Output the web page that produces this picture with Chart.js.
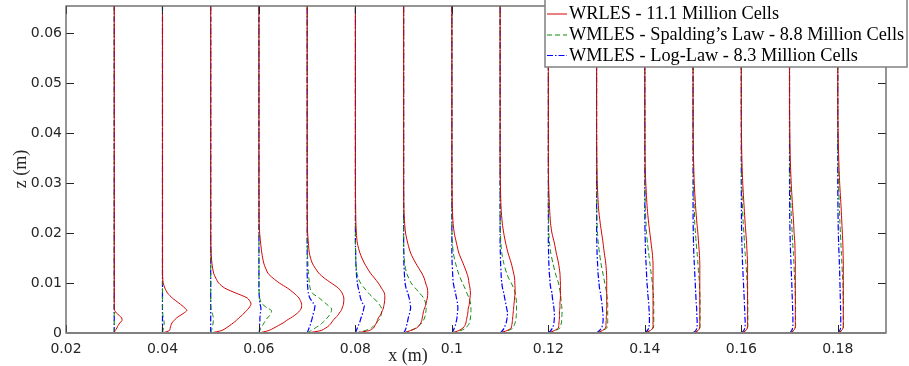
<!DOCTYPE html>
<html>
<head>
<meta charset="utf-8">
<script src="https://cdn.jsdelivr.net/npm/chart.js@4.4.1/dist/chart.umd.min.js"></script>
<style>
  html, body { margin: 0; padding: 0; background: #ffffff; }
  #wrap { width: 909px; height: 366px; }
</style>
</head>
<body>
<div id="wrap"><canvas id="c" width="909" height="366"></canvas></div>
<script>
// ---------------- DATA ----------------
// measurement stations (x, m)
const STATIONS = [0.03, 0.04, 0.05, 0.06, 0.07, 0.08, 0.09, 0.10, 0.11, 0.12, 0.13, 0.14, 0.15, 0.16, 0.17, 0.18];
// wall-normal sample heights (mm)
const Z_MM = [0, 0.5, 1, 1.5, 2, 2.5, 3, 3.5, 4, 4.5, 5, 5.5, 6, 7, 8, 9, 10, 11, 12, 14, 16, 18, 20, 22, 25, 30, 35, 40, 45, 65.5];
// profile offsets from each station (mm), one row per station, one value per height
const WRLES = [
  [0, 0.2, 0.55, 0.8, 1.15, 1.6, 1.55, 1.05, 0.45, 0.1, 0, 0, 0, 0, 0, 0, 0, 0, 0, 0, 0, 0, 0, 0, 0, 0, 0, 0, 0, 0],
  [0, 1.45, 1.6, 1.75, 1.95, 2.4, 2.9, 3.65, 4.45, 5.05, 4.65, 4.05, 3.4, 2.05, 1.05, 0.5, 0.15, 0.05, 0, 0, 0, 0, 0, 0, 0, 0, 0, 0, 0, 0],
  [0, 2.3, 3.2, 3.95, 4.65, 5.3, 5.8, 6.45, 6.95, 7.45, 7.9, 8.25, 8.35, 7.6, 5.2, 2.9, 1.65, 1.05, 0.6, 0.25, 0.1, 0.02, 0, 0, 0, 0, 0, 0, 0, 0],
  [0, 2.05, 3.1, 4.05, 5.0, 5.7, 6.55, 7.35, 8.0, 8.5, 8.8, 8.85, 8.8, 8.3, 7.25, 5.9, 4.25, 2.9, 1.85, 1.0, 0.6, 0.35, 0.15, 0.05, 0.02, 0, 0, 0, 0, 0],
  [0, 2.9, 3.85, 4.55, 5.0, 5.35, 5.8, 6.35, 6.65, 7.05, 7.25, 7.45, 7.55, 7.6, 7.25, 6.45, 5.0, 3.55, 2.4, 1.05, 0.45, 0.25, 0.1, 0.05, 0, 0, 0, 0, 0, 0],
  [0, 2.9, 3.75, 4.05, 4.35, 4.55, 4.75, 5.1, 5.4, 5.6, 5.8, 5.9, 6.0, 6.1, 6.0, 5.4, 4.75, 3.95, 3.1, 1.85, 0.95, 0.4, 0.2, 0.1, 0.05, 0, 0, 0, 0, 0],
  [0, 1.45, 2.7, 3.2, 3.55, 3.75, 3.85, 3.95, 4.05, 4.15, 4.35, 4.55, 4.65, 4.9, 5.0, 4.9, 4.55, 4.25, 3.75, 2.5, 1.45, 0.85, 0.4, 0.2, 0.05, 0, 0, 0, 0, 0],
  [0, 1.45, 2.3, 2.7, 2.9, 3.0, 3.1, 3.2, 3.3, 3.35, 3.4, 3.55, 3.65, 3.75, 3.85, 3.75, 3.55, 3.4, 3.1, 2.3, 1.45, 0.95, 0.5, 0.25, 0.1, 0.02, 0, 0, 0, 0],
  [0, 1.45, 2.3, 2.4, 2.5, 2.55, 2.6, 2.65, 2.7, 2.75, 2.8, 2.85, 2.9, 3.0, 3.1, 3.1, 3.05, 3.0, 2.8, 2.3, 1.65, 1.15, 0.75, 0.45, 0.2, 0.05, 0, 0, 0, 0],
  [0, 1.25, 2.05, 2.15, 2.2, 2.25, 2.3, 2.3, 2.3, 2.3, 2.4, 2.4, 2.4, 2.5, 2.5, 2.5, 2.5, 2.45, 2.4, 2.1, 1.65, 1.25, 0.75, 0.45, 0.25, 0.05, 0, 0, 0, 0],
  [0, 1.25, 1.85, 1.95, 1.95, 2.0, 2.0, 2.05, 2.05, 2.05, 2.1, 2.1, 2.1, 2.1, 2.1, 2.1, 2.1, 2.1, 2.05, 1.9, 1.6, 1.35, 1.05, 0.75, 0.4, 0.15, 0.05, 0, 0, 0],
  [0, 1.15, 1.65, 1.7, 1.7, 1.7, 1.7, 1.7, 1.7, 1.7, 1.7, 1.7, 1.7, 1.7, 1.7, 1.7, 1.7, 1.7, 1.7, 1.7, 1.55, 1.3, 1.05, 0.8, 0.5, 0.2, 0.05, 0.02, 0, 0],
  [0, 1.05, 1.35, 1.4, 1.4, 1.4, 1.4, 1.4, 1.4, 1.4, 1.4, 1.4, 1.4, 1.4, 1.4, 1.4, 1.4, 1.4, 1.4, 1.4, 1.3, 1.15, 1.0, 0.8, 0.55, 0.25, 0.1, 0.02, 0, 0],
  [0, 0.95, 1.25, 1.3, 1.3, 1.3, 1.3, 1.3, 1.3, 1.3, 1.3, 1.3, 1.3, 1.3, 1.3, 1.3, 1.3, 1.3, 1.3, 1.3, 1.2, 1.1, 0.95, 0.8, 0.6, 0.3, 0.12, 0.04, 0, 0],
  [0, 0.85, 1.15, 1.2, 1.2, 1.2, 1.2, 1.2, 1.2, 1.2, 1.2, 1.2, 1.2, 1.2, 1.2, 1.2, 1.2, 1.2, 1.2, 1.2, 1.15, 1.1, 0.95, 0.85, 0.65, 0.35, 0.15, 0.06, 0.01, 0],
  [0, 0.8, 1.1, 1.15, 1.15, 1.15, 1.15, 1.15, 1.15, 1.15, 1.15, 1.15, 1.15, 1.15, 1.15, 1.15, 1.15, 1.15, 1.15, 1.15, 1.1, 1.05, 0.95, 0.85, 0.7, 0.4, 0.2, 0.08, 0.02, 0]
];
const WMLES_SPALDING = [
  [0, 0, 0, 0, 0, 0, 0, 0, 0, 0, 0, 0, 0, 0, 0, 0, 0, 0, 0, 0, 0, 0, 0, 0, 0, 0, 0, 0, 0, 0],
  [0, 0.1, 0.2, 0.3, 0.35, 0.3, 0.2, 0.1, 0.05, 0, 0, 0, 0, 0, 0, 0, 0, 0, 0, 0, 0, 0, 0, 0, 0, 0, 0, 0, 0, 0],
  [0, 0.15, 0.3, 0.4, 0.5, 0.55, 0.55, 0.45, 0.3, 0.15, 0.05, 0, 0, 0, 0, 0, 0, 0, 0, 0, 0, 0, 0, 0, 0, 0, 0, 0, 0, 0],
  [0, 0.2, 0.4, 0.75, 1.05, 1.35, 1.75, 2.2, 2.5, 2.6, 1.75, 1.05, 0.5, 0.15, 0.05, 0, 0, 0, 0, 0, 0, 0, 0, 0, 0, 0, 0, 0, 0, 0],
  [0, 0.85, 1.65, 2.5, 3.1, 3.65, 4.15, 4.55, 4.9, 5.05, 5.0, 4.35, 3.75, 2.5, 1.05, 0.6, 0.45, 0.35, 0.25, 0.15, 0.05, 0.02, 0, 0, 0, 0, 0, 0, 0, 0],
  [0, 2.05, 3.3, 3.85, 4.35, 4.75, 5.2, 5.3, 5.4, 5.4, 5.4, 5.1, 4.75, 3.75, 2.7, 1.85, 1.05, 0.6, 0.3, 0.1, 0.05, 0, 0, 0, 0, 0, 0, 0, 0, 0],
  [0, 1.45, 2.5, 3.2, 3.75, 4.05, 4.35, 4.45, 4.55, 4.65, 4.65, 4.65, 4.55, 4.15, 3.3, 2.4, 1.55, 1.05, 0.6, 0.2, 0.05, 0, 0, 0, 0, 0, 0, 0, 0, 0],
  [0, 1.85, 2.9, 3.3, 3.65, 3.75, 3.85, 3.9, 3.95, 3.95, 3.95, 3.9, 3.85, 3.55, 3.1, 2.7, 2.2, 1.75, 1.35, 0.75, 0.3, 0.1, 0.02, 0, 0, 0, 0, 0, 0, 0],
  [0, 1.65, 2.7, 2.9, 3.1, 3.2, 3.3, 3.35, 3.4, 3.4, 3.4, 3.4, 3.4, 3.3, 3.1, 2.8, 2.3, 1.75, 1.35, 0.75, 0.35, 0.15, 0.05, 0, 0, 0, 0, 0, 0, 0],
  [0, 1.45, 2.4, 2.55, 2.7, 2.75, 2.8, 2.8, 2.85, 2.8, 2.8, 2.75, 2.7, 2.6, 2.5, 2.3, 2.1, 1.75, 1.45, 0.95, 0.5, 0.25, 0.1, 0.05, 0, 0, 0, 0, 0, 0],
  [0, 1.25, 2.1, 2.2, 2.3, 2.3, 2.3, 2.3, 2.3, 2.3, 2.3, 2.3, 2.3, 2.2, 2.1, 1.9, 1.7, 1.5, 1.3, 0.9, 0.6, 0.35, 0.2, 0.1, 0.05, 0, 0, 0, 0, 0],
  [0, 1.15, 1.75, 1.85, 1.85, 1.85, 1.85, 1.85, 1.85, 1.85, 1.85, 1.85, 1.85, 1.8, 1.75, 1.65, 1.55, 1.45, 1.3, 1.05, 0.8, 0.55, 0.35, 0.25, 0.1, 0.02, 0, 0, 0, 0],
  [0, 1.05, 1.4, 1.45, 1.45, 1.45, 1.45, 1.45, 1.45, 1.45, 1.45, 1.45, 1.45, 1.45, 1.4, 1.35, 1.3, 1.25, 1.15, 1.0, 0.85, 0.65, 0.5, 0.35, 0.25, 0.1, 0.02, 0, 0, 0],
  [0, 0.95, 1.3, 1.35, 1.35, 1.35, 1.35, 1.35, 1.35, 1.35, 1.35, 1.35, 1.35, 1.3, 1.3, 1.25, 1.2, 1.15, 1.1, 0.95, 0.8, 0.65, 0.55, 0.4, 0.25, 0.1, 0.02, 0, 0, 0],
  [0, 0.9, 1.2, 1.25, 1.25, 1.25, 1.25, 1.25, 1.25, 1.25, 1.25, 1.25, 1.25, 1.2, 1.2, 1.15, 1.1, 1.05, 1.0, 0.9, 0.8, 0.65, 0.55, 0.45, 0.3, 0.12, 0.04, 0, 0, 0],
  [0, 0.85, 1.15, 1.15, 1.15, 1.15, 1.15, 1.15, 1.15, 1.15, 1.15, 1.15, 1.15, 1.1, 1.1, 1.08, 1.05, 1.0, 0.95, 0.85, 0.75, 0.65, 0.55, 0.45, 0.35, 0.15, 0.05, 0, 0, 0]
];
const WMLES_LOGLAW = [
  [0, 0, 0, 0, 0, 0, 0, 0, 0, 0, 0, 0, 0, 0, 0, 0, 0, 0, 0, 0, 0, 0, 0, 0, 0, 0, 0, 0, 0, 0],
  [0, 0, 0, 0, 0, 0, 0, 0, 0, 0, 0, 0, 0, 0, 0, 0, 0, 0, 0, 0, 0, 0, 0, 0, 0, 0, 0, 0, 0, 0],
  [0, 0, 0, 0, 0, 0, 0, 0, 0, 0, 0, 0, 0, 0, 0, 0, 0, 0, 0, 0, 0, 0, 0, 0, 0, 0, 0, 0, 0, 0],
  [0, 0.1, 0.15, 0.15, 0.15, 0.2, 0.2, 0.25, 0.3, 0.4, 0.4, 0.3, 0.2, 0.1, 0.02, 0, 0, 0, 0, 0, 0, 0, 0, 0, 0, 0, 0, 0, 0, 0],
  [0, 0.2, 0.4, 0.6, 0.75, 0.9, 1.05, 1.15, 1.3, 1.45, 1.55, 1.6, 1.25, 0.55, 0.25, 0.12, 0.06, 0.02, 0, 0, 0, 0, 0, 0, 0, 0, 0, 0, 0, 0],
  [0, 0.2, 0.4, 0.6, 0.85, 1.0, 1.15, 1.35, 1.5, 1.65, 1.75, 1.85, 1.45, 1.05, 0.85, 0.6, 0.4, 0.3, 0.2, 0.1, 0.05, 0, 0, 0, 0, 0, 0, 0, 0, 0],
  [0, 0.3, 0.5, 0.6, 0.75, 0.85, 0.95, 1.1, 1.25, 1.35, 1.45, 1.4, 1.35, 1.15, 0.85, 0.5, 0.3, 0.2, 0.15, 0.05, 0.02, 0, 0, 0, 0, 0, 0, 0, 0, 0],
  [0, 0.3, 0.5, 0.7, 0.85, 0.95, 1.05, 1.1, 1.15, 1.2, 1.25, 1.2, 1.15, 0.95, 0.75, 0.5, 0.3, 0.2, 0.15, 0.05, 0, 0, 0, 0, 0, 0, 0, 0, 0, 0],
  [0, 0.5, 0.85, 1.05, 1.25, 1.35, 1.45, 1.5, 1.55, 1.45, 1.35, 1.25, 1.15, 0.95, 0.75, 0.5, 0.35, 0.25, 0.2, 0.1, 0.05, 0, 0, 0, 0, 0, 0, 0, 0, 0],
  [0, 0.5, 0.85, 1.05, 1.15, 1.2, 1.25, 1.25, 1.25, 1.2, 1.15, 1.1, 1.0, 0.85, 0.75, 0.5, 0.35, 0.3, 0.2, 0.1, 0.05, 0, 0, 0, 0, 0, 0, 0, 0, 0],
  [0, 0.6, 1.05, 1.2, 1.3, 1.35, 1.35, 1.35, 1.3, 1.25, 1.2, 1.15, 1.1, 0.95, 0.8, 0.6, 0.5, 0.4, 0.3, 0.2, 0.1, 0.05, 0.02, 0, 0, 0, 0, 0, 0, 0],
  [0, 0.5, 0.85, 0.9, 0.95, 0.95, 0.95, 0.95, 0.9, 0.9, 0.85, 0.85, 0.8, 0.7, 0.6, 0.55, 0.45, 0.4, 0.35, 0.25, 0.15, 0.1, 0.05, 0.02, 0, 0, 0, 0, 0, 0],
  [0, 0.55, 0.8, 0.85, 0.85, 0.85, 0.8, 0.8, 0.75, 0.75, 0.75, 0.7, 0.65, 0.6, 0.55, 0.5, 0.45, 0.4, 0.35, 0.25, 0.15, 0.1, 0.05, 0.02, 0, 0, 0, 0, 0, 0],
  [0, 0.5, 0.75, 0.8, 0.8, 0.8, 0.75, 0.75, 0.75, 0.7, 0.7, 0.65, 0.65, 0.6, 0.55, 0.5, 0.45, 0.4, 0.35, 0.25, 0.2, 0.12, 0.08, 0.05, 0.02, 0, 0, 0, 0, 0],
  [0, 0.45, 0.65, 0.7, 0.7, 0.7, 0.7, 0.68, 0.66, 0.65, 0.63, 0.62, 0.6, 0.57, 0.53, 0.5, 0.46, 0.42, 0.38, 0.3, 0.22, 0.15, 0.1, 0.06, 0.03, 0, 0, 0, 0, 0],
  [0, 0.4, 0.6, 0.6, 0.62, 0.62, 0.62, 0.6, 0.6, 0.6, 0.58, 0.57, 0.56, 0.53, 0.5, 0.48, 0.45, 0.42, 0.4, 0.33, 0.25, 0.18, 0.12, 0.08, 0.04, 0, 0, 0, 0, 0]
];
const SERIES_LABELS = [
  "WRLES - 11.1 Million Cells",
  "WMLES - Spalding\u2019s Law - 8.8 Million Cells",
  "WMLES - Log-Law - 8.3 Million Cells"
];
const X_TICKS = [0.02, 0.04, 0.06, 0.08, 0.10, 0.12, 0.14, 0.16, 0.18];
const Y_TICKS = [0, 0.01, 0.02, 0.03, 0.04, 0.05, 0.06];
const X_LABEL = "x (m)";
const Y_LABEL = "z (m)";

// ---------------- STYLE ----------------
const SERIES_STYLE = [
  { color: "#d40000", dash: [] },
  { color: "#0a8a0a", dash: [5, 3] },
  { color: "#0000ff", dash: [6, 2, 1.5, 2] }
];
const SERIES_DATA = [WRLES, WMLES_SPALDING, WMLES_LOGLAW];

const datasets = [];
SERIES_DATA.forEach((rows, s) => {
  STATIONS.forEach((st, i) => {
    datasets.push({
      label: SERIES_LABELS[s],
      data: Z_MM.map((z, k) => ({ x: st + rows[i][k] / 1000, y: z / 1000 })),
      showLine: true,
      borderColor: SERIES_STYLE[s].color,
      borderDash: SERIES_STYLE[s].dash,
      borderWidth: s === 2 ? 1.2 : 1,
      pointRadius: 0,
      pointHoverRadius: 0,
      tension: 0.25,
      fill: false
    });
  });
});

const fmt = v => String(parseFloat(v.toFixed(3)));
const SERIF = "'Liberation Serif', 'DejaVu Serif', serif";

const matlabFrame = {
  id: "matlabFrame",
  afterDatasetsDraw(chart) {
    const { ctx, chartArea: { left, right, top, bottom }, scales: { x, y } } = chart;
    ctx.save();
    ctx.strokeStyle = "#262626";
    ctx.lineWidth = 1;
    ctx.beginPath();
    X_TICKS.forEach(v => {
      const px = Math.round(x.getPixelForValue(v)) + 0.5;
      ctx.moveTo(px, bottom); ctx.lineTo(px, bottom - 8);
      ctx.moveTo(px, top); ctx.lineTo(px, top + 8);
    });
    Y_TICKS.forEach(v => {
      const py = Math.round(y.getPixelForValue(v)) + 0.5;
      ctx.moveTo(left, py); ctx.lineTo(left + 8, py);
      ctx.moveTo(right, py); ctx.lineTo(right - 8, py);
    });
    ctx.stroke();
    ctx.strokeStyle = "#5c5c5c";
    ctx.lineWidth = 1.3;
    ctx.strokeRect(left, top, right - left, bottom - top);
    ctx.strokeStyle = "#808080";
    ctx.lineWidth = 2;
    ctx.beginPath();
    ctx.moveTo(left, bottom); ctx.lineTo(right, bottom);
    ctx.stroke();
    ctx.restore();
  },
  afterDraw(chart) {
    const { ctx } = chart;
    ctx.save();
    ctx.fillStyle = "#262626";
    ctx.font = "18px " + SERIF;
    ctx.textAlign = "center";
    ctx.textBaseline = "middle";
    ctx.fillText(X_LABEL, 408, 356);
    ctx.save();
    ctx.translate(21, 169);
    ctx.rotate(-Math.PI / 2);
    ctx.fillText(Y_LABEL, 0, 0);
    ctx.restore();

    // legend box
    const bx = 545, by = -2, bw = 362, bh = 69;
    ctx.fillStyle = "#ffffff";
    ctx.fillRect(bx, by, bw, bh);
    ctx.strokeStyle = "#808080";
    ctx.lineWidth = 1.5;
    ctx.strokeRect(bx, by, bw, bh);
    ctx.font = "18.3px " + SERIF;
    ctx.textAlign = "left";
    ctx.textBaseline = "middle";
    const rowsY = [13.5, 34.5, 55];
    SERIES_LABELS.forEach((lab, s) => {
      const yy = rowsY[s];
      ctx.strokeStyle = SERIES_STYLE[s].color;
      ctx.setLineDash(SERIES_STYLE[s].dash);
      ctx.lineWidth = 1;
      ctx.beginPath();
      ctx.moveTo(547, yy + 0.5); ctx.lineTo(567, yy + 0.5);
      ctx.stroke();
      ctx.setLineDash([]);
      ctx.fillStyle = "#000000";
      ctx.fillText(lab, 569, yy + 1);
    });
    ctx.restore();
  }
};

new Chart(document.getElementById("c"), {
  type: "scatter",
  data: { datasets },
  plugins: [matlabFrame],
  options: {
    responsive: false,
    animation: false,
    events: [],
    layout: { padding: { top: 6, right: 23, left: 0, bottom: 0 } },
    plugins: { legend: { display: false }, tooltip: { enabled: false } },
    scales: {
      x: {
        type: "linear",
        min: 0.02, max: 0.19,
        afterBuildTicks: s => { s.ticks = X_TICKS.map(v => ({ value: v })); },
        afterFit: s => { s.height = 33; s.paddingLeft = 0; s.paddingRight = 0; },
        grid: { display: false, drawTicks: false },
        border: { display: false },
        ticks: {
          callback: v => fmt(v),
          font: { family: "'DejaVu Sans', sans-serif", size: 14 },
          color: "#262626",
          padding: 8,
          maxRotation: 0,
          autoSkip: false
        }
      },
      y: {
        type: "linear",
        min: 0, max: 0.0655,
        afterBuildTicks: s => { s.ticks = Y_TICKS.map(v => ({ value: v })); },
        afterFit: s => { s.width = 66; s.paddingTop = 0; s.paddingBottom = 0; },
        grid: { display: false, drawTicks: false },
        border: { display: false },
        ticks: {
          callback: v => fmt(v),
          font: { family: "'DejaVu Sans', sans-serif", size: 14 },
          color: "#262626",
          padding: 4,
          autoSkip: false
        }
      }
    }
  }
});
</script>
</body>
</html>
